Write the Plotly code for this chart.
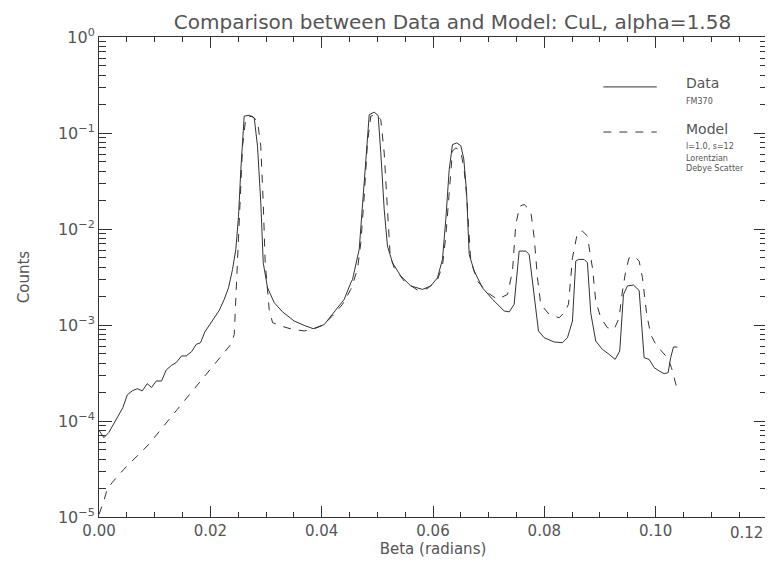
import plotly.graph_objects as go

# ---- Data ----
beta_data = [0.0000, 0.00086, 0.00176, 0.00266, 0.00356, 0.00428, 0.00507, 0.00596, 0.00686, 0.00776,
             0.00866, 0.00943, 0.01027, 0.01123, 0.01207, 0.01302, 0.01387, 0.01482, 0.01566, 0.01662,
             0.01746, 0.01823, 0.01900, 0.02039, 0.02159, 0.02249, 0.02326, 0.02398, 0.02457, 0.02506,
             0.02547, 0.02608, 0.02698, 0.02788, 0.02847, 0.02906, 0.02950, 0.03027, 0.03147, 0.03296,
             0.03506, 0.03686, 0.03848, 0.04045, 0.04164, 0.04284, 0.04405, 0.04523, 0.04554, 0.04674,
             0.04733, 0.04793, 0.04854, 0.04943, 0.05015, 0.05062, 0.05123, 0.05182, 0.05272, 0.05421,
             0.05601, 0.05811, 0.05960, 0.06081, 0.06170, 0.06230, 0.06291, 0.06350, 0.06427, 0.06499,
             0.06553, 0.06602, 0.06650, 0.06740, 0.06889, 0.07069, 0.07279, 0.07369, 0.07458, 0.07548,
             0.07667, 0.07728, 0.07818, 0.07895, 0.07997, 0.08116, 0.08177, 0.08326, 0.08416, 0.08506,
             0.08565, 0.08613, 0.08716, 0.08775, 0.08834, 0.08924, 0.09044, 0.09165, 0.09273, 0.09355,
             0.09422, 0.09493, 0.09601, 0.09704, 0.09745, 0.09793, 0.09883, 0.09973, 0.10063, 0.10153,
             0.10225, 0.10271, 0.10320, 0.10392]
counts_data = [8.0e-5, 6.7e-5, 7.6e-5, 9.4e-5, 1.16e-4, 1.38e-4, 1.87e-4, 2.06e-4, 2.17e-4, 2.06e-4,
               2.45e-4, 2.23e-4, 2.61e-4, 2.61e-4, 3.40e-4, 3.80e-4, 4.06e-4, 4.76e-4, 4.76e-4, 5.27e-4,
               6.28e-4, 6.54e-4, 8.46e-4, 1.10e-3, 1.42e-3, 1.85e-3, 2.44e-3, 3.79e-3, 6.12e-3, 1.36e-2,
               4.16e-2, 0.150, 0.153, 0.144, 0.0729, 0.0187, 4.45e-3, 2.44e-3, 1.71e-3, 1.37e-3,
               1.10e-3, 9.9e-4, 9.15e-4, 1.01e-3, 1.24e-3, 1.51e-3, 1.85e-3, 2.75e-3, 2.98e-3, 6.12e-3,
               0.0187, 0.0621, 0.155, 0.165, 0.152, 0.0621, 0.0160, 6.64e-3, 4.45e-3, 3.24e-3,
               2.55e-3, 2.35e-3, 2.55e-3, 3.11e-3, 4.82e-3, 0.0126, 0.0416, 0.0757, 0.0789, 0.0739,
               0.0538, 0.0248, 5.43e-3, 3.65e-3, 2.44e-3, 1.85e-3, 1.40e-3, 1.37e-3, 1.64e-3, 5.89e-3,
               5.89e-3, 5.43e-3, 1.92e-3, 8.67e-4, 7.38e-4, 6.92e-4, 6.65e-4, 6.54e-4, 7.38e-4, 1.10e-3,
               4.63e-3, 4.82e-3, 4.82e-3, 4.45e-3, 1.34e-3, 6.81e-4, 5.57e-4, 4.94e-4, 4.38e-4, 5.36e-4,
               2.08e-3, 2.55e-3, 2.61e-3, 2.29e-3, 1.01e-3, 4.57e-4, 4.38e-4, 3.60e-4, 3.32e-4, 3.11e-4,
               3.19e-4, 4.57e-4, 5.90e-4, 5.90e-4]

beta_model = [0.0000, 0.00086, 0.00147, 0.00237, 0.00445, 0.00895, 0.01405, 0.02003, 0.02368, 0.02429,
              0.02447, 0.02488, 0.02529, 0.02578, 0.02637, 0.02745, 0.02847, 0.02906, 0.02950, 0.02985,
              0.03057, 0.03117, 0.03266, 0.03476, 0.03686, 0.03866, 0.04015, 0.04194, 0.04374, 0.04523,
              0.04643, 0.04703, 0.04764, 0.04823, 0.04882, 0.04972, 0.05062, 0.05123, 0.05182, 0.05231,
              0.05303, 0.05482, 0.05721, 0.05901, 0.06081, 0.06170, 0.06230, 0.06291, 0.06350, 0.06409,
              0.06499, 0.06560, 0.06610, 0.06637, 0.06679, 0.06799, 0.06979, 0.07158, 0.07338, 0.07428,
              0.07487, 0.07559, 0.07638, 0.07756, 0.07818, 0.07877, 0.07936, 0.08087, 0.08267, 0.08356,
              0.08434, 0.08506, 0.08595, 0.08685, 0.08775, 0.08834, 0.08865, 0.08924, 0.09014, 0.09134,
              0.09255, 0.09344, 0.09404, 0.09463, 0.09524, 0.09614, 0.09704, 0.09763, 0.09840, 0.09912,
              0.10002, 0.10104, 0.10212, 0.10284, 0.10332, 0.10379]
counts_model = [1.07e-5, 1.47e-5, 1.95e-5, 2.29e-5, 3.14e-5, 5.72e-5, 1.32e-4, 3.45e-4, 6.28e-4, 7.98e-4,
                1.45e-3, 3.79e-3, 0.0187, 0.0729, 0.144, 0.150, 0.133, 0.0729, 0.0187, 4.45e-3,
                1.45e-3, 1.06e-3, 9.77e-4, 9.0e-4, 8.67e-4, 9.15e-4, 9.9e-4, 1.24e-3, 1.64e-3, 2.35e-3,
                3.79e-3, 7.18e-3, 0.0220, 0.0789, 0.150, 0.155, 0.138, 0.0621, 0.0160, 5.22e-3,
                3.95e-3, 2.87e-3, 2.31e-3, 2.39e-3, 2.98e-3, 4.11e-3, 8.44e-3, 0.0258, 0.0647, 0.070,
                0.0647, 0.0416, 0.0203, 0.0111, 4.63e-3, 2.87e-3, 2.17e-3, 1.85e-3, 2.08e-3, 3.65e-3,
                0.0111, 0.0173, 0.0180, 0.0154, 8.1e-3, 3.11e-3, 1.64e-3, 1.29e-3, 1.19e-3, 1.34e-3,
                1.64e-3, 5.02e-3, 9.13e-3, 9.5e-3, 8.44e-3, 5.02e-3, 3.95e-3, 1.78e-3, 1.19e-3, 9.37e-4,
                9.0e-4, 1.19e-3, 2.26e-3, 3.65e-3, 5.02e-3, 5.22e-3, 4.63e-3, 3.11e-3, 1.29e-3, 7.98e-4,
                6.28e-4, 5.36e-4, 4.57e-4, 3.60e-4, 2.83e-4, 2.23e-4]

x_ticks = [0.00, 0.02, 0.04, 0.06, 0.08, 0.10, 0.12]
x_tick_labels = ["0.00", "0.02", "0.04", "0.06", "0.08", "0.10", "0.12"]
y_ticks = [1e-5, 1e-4, 1e-3, 1e-2, 1e-1, 1]
y_tick_labels = ["10<sup>−5</sup>", "10<sup>−4</sup>", "10<sup>−3</sup>",
                 "10<sup>−2</sup>", "10<sup>−1</sup>", "10<sup>0</sup>"]
y_minor_ticks = [m * d for d in [1e-5, 1e-4, 1e-3, 1e-2, 1e-1] for m in range(2, 10)]

title_text = "Comparison between Data and Model: CuL, alpha=1.58"

FONT = "DejaVu Sans"
TXT = "#555555"
LINE = "#333333"

fig = go.Figure()
fig.add_trace(go.Scatter(x=beta_data, y=counts_data, mode="lines", name="Data",
                         line=dict(color=LINE, width=1), showlegend=False))
fig.add_trace(go.Scatter(x=beta_model, y=counts_model, mode="lines", name="Model",
                         line=dict(color=LINE, width=1, dash="8px,8px"), showlegend=False))

# legend drawn as shapes + annotations (paper coords)
fig.add_shape(type="line", xref="paper", yref="paper", x0=0.755, x1=0.835, y0=0.896, y1=0.896,
              line=dict(color=LINE, width=1))
fig.add_shape(type="line", xref="paper", yref="paper", x0=0.755, x1=0.835, y0=0.802, y1=0.802,
              line=dict(color=LINE, width=1, dash="8px,8px"))
legend_items = [
    ("Data", 0.904, 14),
    ("FM370", 0.866, 8),
    ("Model", 0.809, 14),
    ("l=1.0, s=12", 0.771, 8),
    ("Lorentzian", 0.747, 8),
    ("Debye Scatter", 0.727, 8),
]
for txt, yy, sz in legend_items:
    fig.add_annotation(text=txt, xref="paper", yref="paper", x=0.875, y=yy,
                       xanchor="left", yanchor="middle", showarrow=False,
                       font=dict(family=FONT, size=sz, color=TXT))

# last x tick label kept inside the page (as in the reference)
fig.add_annotation(text=x_tick_labels[-1], xref="paper", yref="paper", x=1, y=0,
                   xanchor="right", yanchor="top", xshift=-2, yshift=-5, showarrow=False,
                   font=dict(family=FONT, size=15, color=TXT))

fig.update_layout(
    width=773, height=565,
    margin=dict(l=91, r=14, t=29, b=56),
    paper_bgcolor="white", plot_bgcolor="white",
    font=dict(family=FONT, color=TXT, size=15),
    title=dict(text=title_text, x=0.575, xanchor="center", y=0.976, yanchor="middle",
               font=dict(family=FONT, size=20, color=TXT)),
    showlegend=False,
)
fig.update_xaxes(
    range=[-0.00001, 0.12001], tickmode="array", tickvals=x_ticks,
    ticktext=x_tick_labels[:-1] + [""],
    ticks="inside", ticklen=11, tickcolor=LINE, showgrid=False, zeroline=False,
    showline=True, linecolor=LINE, linewidth=1, mirror="ticks",
    minor=dict(dtick=0.005, tick0=0, ticks="inside", ticklen=5, tickcolor=LINE, showgrid=False),
    title=dict(text="Beta (radians)", font=dict(family=FONT, size=15, color=TXT), standoff=4),
    tickfont=dict(family=FONT, size=15, color=TXT),
)
fig.update_yaxes(
    type="log", range=[-5, 0], tickmode="array", tickvals=y_ticks, ticktext=y_tick_labels,
    ticks="inside", ticklen=13, tickcolor=LINE, showgrid=False, zeroline=False,
    showline=True, linecolor=LINE, linewidth=1, mirror="ticks",
    minor=dict(tickmode="array", tickvals=y_minor_ticks, ticks="inside", ticklen=7,
               tickcolor=LINE, showgrid=False),
    title=dict(text="Counts", font=dict(family=FONT, size=15, color=TXT), standoff=24),
    tickfont=dict(family=FONT, size=16, color=TXT),
)

fig.write_html("out.html")
